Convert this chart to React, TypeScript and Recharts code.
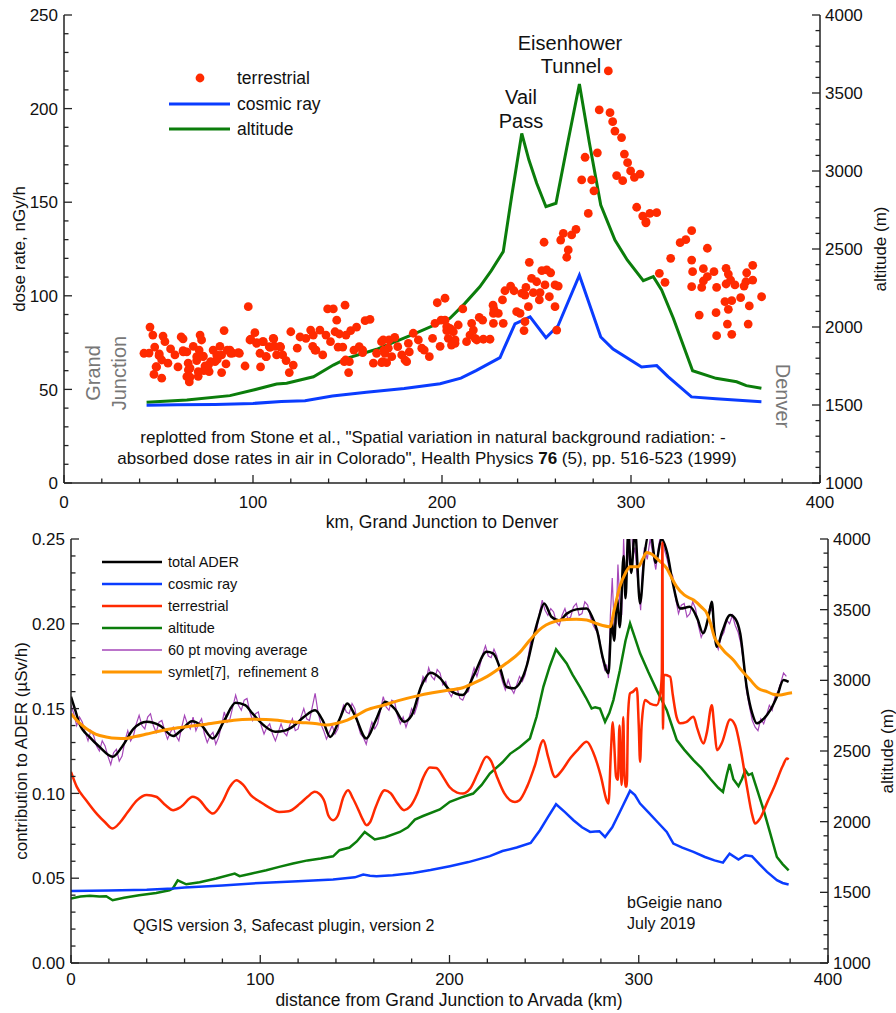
import React from 'react';
import { ComposedChart, Line, Scatter, XAxis, YAxis } from 'recharts';

const FONT = '"Liberation Sans", Arial, Helvetica, sans-serif';

// ---------- top panel: Stone et al. (1999), km vs nGy/h and altitude (m)
const stoneTerrestrial: [number, number][] = [
  [42.3, 69.3], [45, 69.4], [45.5, 83.3], [47, 79], [48, 72.6], [49, 62], [47.6, 58], [50.3, 68], [51.7, 56],
  [52.4, 78.5], [53.4, 75.5], [51.7, 65.7], [55, 64], [56.4, 71.6], [58.7, 68.4], [60.3, 62], [62, 78], [63, 77],
  [63, 70.7], [65, 70], [65.7, 64], [65, 56.8], [66.7, 61.4], [66.3, 54], [68.4, 73], [70.2, 65.4], [71, 57],
  [72, 79], [72.8, 76.4], [71.5, 71], [73.6, 67.5], [74, 60], [76.8, 59.5], [77.6, 64.8], [78.9, 71], [80.8, 68.4],
  [82.5, 73], [83.4, 59], [84.7, 81.4], [85.7, 63.6], [87.8, 71], [89.3, 69.4], [92.8, 69.3], [95.8, 62.5],
  [97.5, 94.2], [98.4, 76.4], [101, 80.3], [102, 75], [103.7, 69.3], [104, 62], [105.5, 75.5], [107, 67.5],
  [108.6, 72.8], [111, 77], [111.6, 73], [112.5, 68.4], [114.6, 72.6], [115.7, 68.4], [117.5, 65.4], [119.2, 59],
  [120, 80.8], [121.3, 63], [123.4, 72], [124.9, 78], [128, 77.3], [130.5, 81.7], [131.9, 79], [131.6, 73],
  [132.8, 71], [135.4, 81.7], [136.9, 68.4], [138.6, 79], [139.5, 93], [142.5, 93], [144.3, 87], [141, 75.5],
  [143.4, 80.8], [145.7, 79.6], [145, 72.6], [147.5, 72.6], [148.7, 95], [149.2, 79], [149, 65.7], [151, 64.8],
  [150.6, 59], [151.7, 81.4], [153.4, 71], [154.8, 83.3], [156.2, 72.8], [158, 69.6], [159.3, 86.7], [161.9, 87.4],
  [163.7, 64], [165.4, 69.3], [168, 75.5], [168.6, 64.8], [169.3, 71], [170.7, 64.3], [172, 76.4], [173.4, 67.5],
  [175, 77.8], [176.6, 72.8], [178.7, 68.4], [180.4, 65.7], [182.2, 74.6], [182.7, 70], [184.8, 80], [187.5, 76.4],
  [189.3, 72], [193.3, 67.5], [195, 77.3], [196.3, 85.3], [197.5, 96.3], [199, 73], [201.6, 98.7], [201.6, 87],
  [202.5, 81.4], [203.3, 77.3],
  [50.4, 69], [48.7, 62.1], [63.1, 70.1], [65.8, 60.4], [66.7, 56.5], [70.2, 67.5], [71, 59.5], [73.7, 67.8],
  [74.6, 62.5], [76.4, 63], [79.9, 64.8], [81.1, 66], [83.4, 68.4], [86.4, 71], [88.2, 69.3], [92.2, 69.6],
  [98.8, 76.8], [101.9, 74.6], [105.1, 75.5], [106.9, 67.5], [109, 72.5], [110.7, 77.3], [114.3, 73],
  [133.3, 71], [148.3, 64.8], [158, 71], [168.9, 76.4], [169.8, 69.3], [168.1, 64.3], [171.6, 72], [181.3, 64.8],
  [190.6, 71], [199.5, 87], [204.2, 82.6],
  [202.5, 83.5], [205.1, 81.7], [206.9, 74.6], [214.8, 79], [217.5, 77.3], [227.2, 90.6],
  [208.6, 84.4], [206, 80.8], [206.9, 76.4], [205, 73.7], [211, 93], [215.7, 85.3], [216.6, 81.7], [213, 75.5],
  [218.4, 76.4], [219.7, 88.5], [221.5, 87], [221.9, 76.8], [225.4, 76.8], [227.2, 85.3], [227.5, 92.8], [227, 95],
  [229.8, 90.6], [232, 97.8], [232.4, 85.3], [233.3, 102.7], [236.3, 105.2], [238.1, 102.7], [239.5, 91.5],
  [241.3, 90.6], [242.2, 101.3], [243.9, 100.4], [244.4, 104.5], [243.9, 86.2], [243.4, 81.4], [245.7, 94.2],
  [246.2, 117.9], [247.4, 109.3], [248.3, 101.7], [250.1, 107.5], [251.5, 97.8], [251.9, 101.7], [252.8, 113.4],
  [254.5, 105.8], [255.4, 113.8], [256.8, 99.5], [257.5, 112.3], [259.8, 105.8], [259.8, 94.2], [260.7, 81.7],
  [261.5, 105.2], [266, 120.6], [266.8, 124.5],
  [254, 128.6], [262.8, 129.8], [264.2, 133.4], [268.6, 132.5], [270.9, 135.5], [277.4, 144], [273.9, 161.9],
  [279.2, 161.9], [280.4, 156.1], [275.7, 174], [282.2, 176.4], [283.2, 199.3], [288, 220.1], [288.9, 197.8],
  [290.3, 193], [291.5, 188], [295, 184.5], [296.5, 175.7], [292.4, 164.2], [295.6, 161.5], [298.2, 171.1],
  [299.8, 166.7], [301.8, 163.3], [304.8, 165], [303, 147.3], [306.2, 142.6], [307.9, 139.6], [310, 144],
  [313.6, 144.4], [307.9, 139],
  [332.1, 134.8], [329, 130], [326, 128.4], [340.4, 125.4], [321, 120], [332.1, 119.1], [315, 112], [318, 107.2],
  [332.6, 112.9], [338.3, 114.5], [343.9, 112.9], [340.4, 110.2], [338.3, 107.9], [332.1, 104.9], [337.4, 104.5],
  [345.3, 104.5], [350.3, 114.7], [351.5, 111.6], [352.7, 108.4], [350.3, 106.3], [355, 105.8], [361.2, 112.3],
  [364.4, 116.3], [364.4, 108.4], [360.8, 107.5], [359.8, 105.2], [358, 99], [369.1, 99.5], [349.7, 96.9],
  [353.3, 97.4], [351.5, 92.8], [362.6, 94.6], [336.1, 89.7], [345, 91], [351, 84.9], [362, 84.9], [345.3, 78.7],
  [353.3, 79.4],
];

const stoneCosmic: [number, number][] = [
  [43.7, 41.5], [60, 41.8], [80, 42], [100, 42.5], [115, 43.5], [127.5, 44], [142, 46.5], [160, 48.5],
  [180, 50.5], [199, 53], [210, 56], [218, 60], [230.7, 67], [232, 70], [238.6, 85], [246.6, 88.7], [255, 77.6],
  [261.4, 84], [272.7, 111], [284, 78], [290.5, 71.6], [305.6, 62], [313.6, 62.7], [319.6, 56.8], [332, 46],
  [345, 45], [369, 43.4],
];

const stoneAltitude: [number, number][] = [
  [43.7, 1517], [65, 1532], [87.8, 1560], [100.2, 1596], [112.5, 1635], [117.8, 1639], [132, 1681],
  [142.5, 1756], [149.6, 1799], [165.4, 1857], [185, 1955], [204.2, 2056], [212, 2150], [220, 2258],
  [226, 2360], [232.4, 2483], [237, 2850], [242.2, 3241], [246, 3070], [250.1, 2921], [255, 2771],
  [260.3, 2793], [266.5, 3180], [272.7, 3558], [278, 3180], [284, 2782], [291.5, 2557], [298, 2430],
  [306.5, 2297], [311.8, 2323], [316.2, 2237], [322.4, 2056], [332.6, 1720], [345, 1671], [355.9, 1649],
  [361, 1624], [369, 1607],
];

// ---------- bottom panel: bGeigie nano drive, km vs uSv/h and altitude (m)
const totalAder: [number, number][] = [
  [0, 0.157], [2, 0.15], [4.5, 0.141], [10, 0.133], [15, 0.1275], [22, 0.1216], [27, 0.1275], [33, 0.138],
  [40, 0.1422], [47, 0.14], [54, 0.1338], [58, 0.137], [64, 0.1426], [69, 0.14], [75, 0.1324], [81, 0.143],
  [87, 0.1534], [92, 0.152], [96, 0.147], [102, 0.14], [108, 0.1363], [113, 0.137], [117, 0.1392], [123, 0.145],
  [129, 0.1491], [133, 0.143], [137, 0.1333], [142, 0.144], [146, 0.153], [150, 0.146], [156, 0.1324],
  [161, 0.143], [166, 0.154], [171, 0.15], [176, 0.1422], [180, 0.146], [185, 0.163], [190, 0.1711],
  [195, 0.168], [200, 0.161], [207, 0.158], [213, 0.17], [219.6, 0.1835], [223, 0.1826], [227, 0.173],
  [230, 0.1629], [234, 0.162], [237, 0.1649], [241, 0.176], [244, 0.1904], [247, 0.203], [250, 0.212],
  [254, 0.204], [258, 0.202], [262, 0.206], [267, 0.2085], [272.5, 0.209], [275, 0.205], [278, 0.196],
  [281, 0.18], [284, 0.1708], [285.7, 0.202], [287, 0.19], [288.5, 0.215], [290, 0.198], [292, 0.24],
  [293, 0.215], [294.5, 0.255], [296, 0.23], [298, 0.255], [300.7, 0.212], [303, 0.24], [306, 0.255],
  [309, 0.236], [312, 0.25], [315, 0.242], [318, 0.224], [322, 0.209], [327, 0.21], [331, 0.203],
  [334, 0.1944], [337, 0.205], [338.6, 0.213], [340, 0.195], [341.3, 0.1865], [344, 0.195], [348.3, 0.2052],
  [351, 0.203], [353.6, 0.1944], [357, 0.1629], [360, 0.147], [362.4, 0.1413], [366, 0.144], [369.5, 0.1491],
  [373, 0.157], [376.5, 0.1668], [379.2, 0.1658],
];

const movingAvg: [number, number][] = [
  [0, 0.152], [1.5, 0.147], [3, 0.14], [4.5, 0.145], [6, 0.142], [7.5, 0.136], [9, 0.131], [10.5, 0.137],
  [12, 0.134], [13.5, 0.128], [15, 0.125], [16.5, 0.131], [18, 0.128], [19.5, 0.122], [21, 0.117], [22.5, 0.124],
  [24, 0.126], [25.5, 0.119], [27, 0.122], [28.5, 0.131], [30, 0.137], [31.5, 0.131], [33, 0.134], [34.5, 0.141],
  [36, 0.146], [37.5, 0.14], [39, 0.138], [40.5, 0.145], [42, 0.147], [43.5, 0.14], [45, 0.136], [46.5, 0.142],
  [48, 0.143], [49.5, 0.137], [51, 0.132], [52.5, 0.136], [54, 0.139], [55.5, 0.134], [57, 0.131],
  [58.5, 0.139], [60, 0.146], [61.5, 0.141], [63, 0.138], [64.5, 0.145], [66, 0.137], [67.5, 0.141],
  [69, 0.144], [70.5, 0.135], [72, 0.13], [73.5, 0.134], [75, 0.136], [76.5, 0.129], [78, 0.133],
  [79.5, 0.14], [81, 0.148], [82.5, 0.142], [84, 0.144], [85.5, 0.151], [87, 0.158], [88.5, 0.152],
  [90, 0.149], [91.5, 0.155], [93, 0.156], [94.5, 0.148], [96, 0.143], [97.5, 0.147], [99, 0.148],
  [100.5, 0.14], [102, 0.135], [103.5, 0.139], [105, 0.141], [106.5, 0.135], [108, 0.131], [109.5, 0.136],
  [111, 0.141], [112.5, 0.136], [114, 0.134], [115.5, 0.14], [117, 0.144], [118.5, 0.137], [120, 0.138],
  [121.5, 0.145], [123, 0.15], [124.5, 0.144], [126, 0.143], [127.5, 0.151], [129, 0.159], [130.5, 0.148],
  [132, 0.141], [133.5, 0.137], [135, 0.132], [136.5, 0.136], [138, 0.14], [139.5, 0.135], [141, 0.138],
  [142.5, 0.146], [144, 0.152], [145.5, 0.148], [147, 0.147], [148.5, 0.153], [150, 0.15], [151.5, 0.141],
  [153, 0.135], [154.5, 0.133], [156, 0.129], [157.5, 0.136], [159, 0.142], [160.5, 0.138], [162, 0.141],
  [163.5, 0.149], [165, 0.157], [166.5, 0.151], [168, 0.149], [169.5, 0.155], [171, 0.154], [172.5, 0.146],
  [174, 0.141], [175.5, 0.145], [177, 0.139], [178.5, 0.144], [180, 0.15], [181.5, 0.147], [183, 0.152],
  [184.5, 0.161], [186, 0.169], [187.5, 0.166], [189, 0.174], [190.5, 0.169], [192, 0.167], [193.5, 0.173],
  [195, 0.171], [196.5, 0.164], [198, 0.166], [199.5, 0.16], [201, 0.157], [202.5, 0.161], [204, 0.162],
  [205.5, 0.156], [207, 0.155], [208.5, 0.159], [210, 0.16], [211.5, 0.168], [213, 0.174], [214.5, 0.169],
  [216, 0.175], [217.5, 0.182], [219, 0.187], [220.5, 0.181], [222, 0.18], [223.5, 0.185], [225, 0.181],
  [226.5, 0.172], [228, 0.166], [229.5, 0.161], [231, 0.167], [232.5, 0.162], [234, 0.159], [235.5, 0.164],
  [237, 0.169], [238.5, 0.166], [240, 0.17], [241.5, 0.18], [243, 0.19], [244.5, 0.193], [246, 0.196],
  [247.5, 0.206], [249, 0.214], [250.5, 0.208], [252, 0.205], [253.5, 0.209], [255, 0.207], [256.5, 0.201],
  [258, 0.199], [259.5, 0.205], [261, 0.209], [262.5, 0.203], [264, 0.204], [265.5, 0.21], [267, 0.212],
  [268.5, 0.205], [270, 0.206], [271.5, 0.213], [273, 0.211], [274.5, 0.204], [276, 0.199], [277.5, 0.196],
  [279, 0.193], [280.5, 0.181], [282, 0.173], [283, 0.176], [284, 0.168], [285, 0.205], [286, 0.227],
  [287, 0.198], [288, 0.2], [289, 0.235], [290, 0.212], [291, 0.205], [292, 0.25], [293, 0.222], [294, 0.235],
  [295, 0.248], [296, 0.26], [297, 0.24], [298, 0.245], [299, 0.231], [300, 0.22], [301, 0.208], [302, 0.232],
  [303, 0.245], [304.5, 0.238], [306, 0.25], [307.5, 0.241], [309, 0.232], [310.5, 0.246], [312, 0.255],
  [313.5, 0.244], [315, 0.238], [316.5, 0.231], [318, 0.228], [319.5, 0.215], [321, 0.206], [322.5, 0.211],
  [324, 0.212], [325.5, 0.204], [327, 0.206], [328.5, 0.213], [330, 0.209], [331.5, 0.199], [333, 0.192],
  [334.5, 0.196], [336, 0.199], [337.5, 0.21], [339, 0.207], [340.5, 0.19], [342, 0.185], [343.5, 0.192],
  [345, 0.195], [346.5, 0.202], [348, 0.2], [349.5, 0.205], [351, 0.199], [352.5, 0.195], [354, 0.188],
  [355.5, 0.176], [357, 0.16], [358.5, 0.151], [360, 0.143], [361.5, 0.139], [363, 0.137], [364.5, 0.144],
  [366, 0.141], [367.5, 0.146], [369, 0.152], [370.5, 0.149], [372, 0.157], [373.5, 0.16], [375, 0.165],
  [376.5, 0.171], [378, 0.169],
];

const symlet: [number, number][] = [
  [0, 0.147], [4, 0.142], [8, 0.1383], [13, 0.135], [18.6, 0.1333], [24, 0.1325], [29, 0.1324], [34, 0.1335],
  [40, 0.135], [47, 0.1368], [54, 0.1383], [62, 0.1395], [71.5, 0.1408], [80, 0.1422], [86, 0.1432],
  [95, 0.1437], [103, 0.1436], [110, 0.143], [116, 0.1422], [124, 0.1416], [130, 0.141], [135, 0.1403],
  [140, 0.1412], [146, 0.1432], [151, 0.146], [156, 0.1491], [165, 0.152], [174, 0.155], [183, 0.1575],
  [191, 0.1593], [200, 0.161], [206, 0.162], [212.5, 0.1649], [220, 0.169], [230, 0.1767], [237, 0.183],
  [242.5, 0.1904], [247, 0.196], [251, 0.1993], [256, 0.2015], [262, 0.2026], [267, 0.2027], [272.5, 0.2022],
  [278, 0.2], [284.8, 0.1983], [287, 0.208], [290, 0.2219], [293, 0.23], [295.4, 0.2337], [299.8, 0.2337],
  [302, 0.238], [304.2, 0.2421], [307, 0.241], [309.5, 0.2386], [312, 0.236], [314.8, 0.2327], [317, 0.228],
  [320, 0.2219], [324, 0.217], [329, 0.214], [333, 0.21], [336, 0.2062], [338, 0.2], [340, 0.192],
  [341.3, 0.1894], [345, 0.184], [350, 0.1786], [354, 0.173], [359, 0.1668], [363, 0.162], [368, 0.1599],
  [371, 0.1585], [375, 0.158], [378, 0.1588], [381, 0.1593],
];

const terrestrial: [number, number][] = [
  [0, 0.1127], [3, 0.104], [8, 0.096], [14, 0.0875], [18, 0.083], [22, 0.0793], [26, 0.083], [30, 0.089],
  [35, 0.096], [40, 0.099], [45, 0.098], [50, 0.093], [54, 0.0901], [58, 0.092], [64.4, 0.098], [68, 0.096],
  [72, 0.0905], [75, 0.0881], [80, 0.095], [84, 0.104], [87.4, 0.1078], [91, 0.105], [95, 0.099], [100, 0.095],
  [105, 0.0915], [110, 0.0891], [115, 0.0895], [121, 0.094], [125, 0.098], [128.8, 0.1009], [131, 0.1],
  [134, 0.095], [136, 0.087], [138.5, 0.0842], [141, 0.087], [144, 0.098], [146.4, 0.1019], [149, 0.097],
  [152, 0.09], [154, 0.085], [156.2, 0.0812], [158, 0.083], [161, 0.092], [165.8, 0.1019], [169, 0.1],
  [172, 0.095], [176, 0.0901], [179, 0.092], [183, 0.1], [186, 0.109], [189.6, 0.1153], [193, 0.115],
  [197, 0.109], [200, 0.1038], [204, 0.1005], [207, 0.0999], [211, 0.103], [215, 0.112], [219.6, 0.1216],
  [222, 0.119], [225, 0.11], [229, 0.1], [232, 0.096], [234.6, 0.095], [237, 0.096], [241, 0.104], [245, 0.116],
  [249.6, 0.1314], [252, 0.122], [255.8, 0.1097], [259, 0.113], [264, 0.121], [268, 0.126], [272.5, 0.1304],
  [276, 0.124], [280, 0.11], [283, 0.096], [284, 0.094], [285.3, 0.125], [286.3, 0.142], [287, 0.13],
  [288, 0.11], [289, 0.108], [289.8, 0.14], [290.4, 0.12], [291, 0.105], [291.8, 0.145], [292.4, 0.113],
  [293, 0.104], [293.7, 0.104], [294.3, 0.145], [295.4, 0.159], [297, 0.16], [299, 0.162], [300, 0.14],
  [300.7, 0.1186], [301.5, 0.14], [303.3, 0.155], [306, 0.153], [309.5, 0.152], [311.5, 0.16], [312.2, 0.171],
  [312.5, 0.248], [312.8, 0.138], [313.2, 0.17], [316.6, 0.1688], [318, 0.158], [320, 0.145], [321.9, 0.1413],
  [325, 0.142], [328.9, 0.1452], [331, 0.138], [334.2, 0.1294], [336, 0.136], [338.6, 0.152], [340, 0.138],
  [341.3, 0.1255], [344, 0.13], [348.3, 0.1436], [351, 0.14], [354, 0.125], [357, 0.105], [360, 0.087],
  [361.5, 0.0822], [364, 0.085], [368, 0.095], [372, 0.105], [376, 0.116], [378.3, 0.1206], [379.2, 0.12],
];

const cosmic: [number, number][] = [
  [0, 0.0425], [20, 0.0428], [40, 0.0432], [53.8, 0.0439], [60, 0.0445], [80, 0.0457], [99.7, 0.0472],
  [120, 0.0482], [138.5, 0.0492], [150, 0.0505], [154.4, 0.0522], [158, 0.0515], [161.4, 0.0512],
  [170, 0.0518], [180.8, 0.0531], [190, 0.0548], [200.2, 0.0571], [210, 0.0595], [221.3, 0.063], [228, 0.066],
  [235.5, 0.0681], [242.9, 0.0708], [247.8, 0.0783], [252, 0.086], [256.3, 0.0936], [261, 0.089],
  [265.5, 0.0842], [270, 0.08], [274.3, 0.0773], [277, 0.0775], [279.2, 0.0777], [282.2, 0.0743], [286, 0.08],
  [290, 0.089], [295.4, 0.1015], [298, 0.099], [300.7, 0.094], [305, 0.089], [310, 0.083], [314.8, 0.0773],
  [318.3, 0.0704], [323, 0.068], [328.9, 0.0655], [335, 0.0625], [340, 0.0605], [344.5, 0.0592], [348, 0.0645],
  [352.7, 0.061], [356.3, 0.0635], [359.8, 0.063], [364, 0.058], [367.8, 0.0537], [373, 0.0488], [376, 0.0472],
  [379.2, 0.0463],
];

const altitude: [number, number][] = [
  [0, 1456], [5, 1470], [10, 1476], [15, 1470], [18.6, 1472], [22, 1444], [28, 1462], [36, 1479], [45, 1495],
  [52, 1515], [53.8, 1527], [56.4, 1585], [60.9, 1557], [68, 1572], [76.7, 1598], [86.5, 1633], [89.1, 1614],
  [95, 1632], [103.2, 1656], [110, 1680], [117.3, 1704], [125, 1726], [132, 1740], [138.5, 1755], [141.9, 1798],
  [147.2, 1817], [151, 1860], [155.2, 1927], [160.5, 1874], [166, 1890], [173.8, 1927], [178, 1960],
  [181.7, 2015], [186, 2040], [194.9, 2086], [200.2, 2140], [206, 2170], [212.5, 2199], [217, 2260],
  [221.3, 2341], [228, 2420], [232, 2480], [237.2, 2529], [242.5, 2589], [246, 2742], [249.6, 2954],
  [253, 3100], [256.3, 3219], [261.9, 3120], [265, 3040], [268.9, 2954], [272, 2880], [275.1, 2801],
  [277, 2810], [279.5, 2801], [282.2, 2706], [284.5, 2770], [286.6, 2860], [290, 3070], [293, 3280],
  [295.4, 3403], [298, 3300], [300.7, 3191], [305, 3060], [309.5, 2931], [314.8, 2789], [317, 2700],
  [320.1, 2577], [324, 2510], [328.9, 2435], [333, 2380], [338, 2300], [342, 2240], [344.5, 2211],
  [346.5, 2330], [348, 2407], [350, 2300], [352.7, 2251], [354.5, 2300], [356.3, 2364], [358, 2330],
  [359.8, 2341], [362, 2250], [366, 2081], [369, 1940], [373, 1750], [376, 1700], [379.2, 1656],
];

// ---------- ticks
const topDoseTicks = Array.from({ length: 26 }, (_, i) => i * 10);
const altTicks = Array.from({ length: 31 }, (_, i) => 1000 + i * 100);
const kmTicks = Array.from({ length: 21 }, (_, i) => i * 20);
const aderTicks = Array.from({ length: 26 }, (_, i) => i / 100);

const toXY = (arr: [number, number][]) => arr.map(([x, y]) => ({ x, y }));

const RED = '#ff2a00';
const BLUE = '#0a3cff';
const GREEN = '#0b7d0b';
const ORANGE = '#ff9600';
const PURPLE = '#a546b8';
const AXIS = '#222';

type Side = 'left' | 'right' | 'bottom' | 'top';

function makeTick(side: Side, isMajor: (v: number) => boolean, fmt: (v: number) => string, gap = 24) {
  return (props: any) => {
    const { x, y, payload } = props;
    const v = payload.value as number;
    const major = isMajor(v);
    const len = major ? 8 : 4.5;
    const label = fmt(v);
    const textProps = { fontSize: 17, fill: '#111', fontFamily: FONT };
    if (side === 'left') {
      return (
        <g>
          <line x1={x} x2={x + len} y1={y} y2={y} stroke={AXIS} strokeWidth={1.3} />
          {major && <text x={x - 6} y={y} dy="0.36em" textAnchor="end" {...textProps}>{label}</text>}
        </g>
      );
    }
    if (side === 'right') {
      return (
        <g>
          <line x1={x - len} x2={x} y1={y} y2={y} stroke={AXIS} strokeWidth={1.3} />
          {major && <text x={x + 5} y={y} dy="0.36em" textAnchor="start" {...textProps}>{label}</text>}
        </g>
      );
    }
    if (side === 'bottom') {
      return (
        <g>
          <line x1={x} x2={x} y1={y - len} y2={y} stroke={AXIS} strokeWidth={1.3} />
          {major && <text x={x} y={y + gap} textAnchor="middle" {...textProps}>{label}</text>}
        </g>
      );
    }
    return <line x1={x} x2={x} y1={y} y2={y + len} stroke={AXIS} strokeWidth={1.3} />;
  };
}

const axisLine = { stroke: AXIS, strokeWidth: 1.5 };

function TopPanel() {
  return (
    <ComposedChart width={896} height={530} margin={{ top: 15, right: 16, bottom: 0, left: 4 }}>
      <XAxis xAxisId={0} dataKey="x" type="number" domain={[0, 400]} ticks={kmTicks} interval={0}
        height={47} tickLine={false} tickSize={0} tickMargin={0} axisLine={axisLine}
        tick={makeTick('bottom', (v) => v % 100 === 0, (v) => String(v), 25)} allowDataOverflow />
      <XAxis xAxisId="top" orientation="top" type="number" domain={[0, 400]} ticks={[100, 200, 300]} interval={0}
        height={0} tickLine={false} tickSize={0} tickMargin={0} axisLine={axisLine}
        tick={makeTick('top', () => true, String)} />
      <YAxis yAxisId="left" dataKey="y" type="number" domain={[0, 250]} ticks={topDoseTicks} interval={0}
        width={60} tickLine={false} tickSize={0} tickMargin={0} axisLine={axisLine}
        tick={makeTick('left', (v) => v % 50 === 0, String)} allowDataOverflow />
      <YAxis yAxisId="right" orientation="right" dataKey="y" type="number" domain={[1000, 4000]} ticks={altTicks}
        interval={0} width={60} tickLine={false} tickSize={0} tickMargin={0} axisLine={axisLine}
        tick={makeTick('right', (v) => v % 500 === 0, String)} allowDataOverflow />
      <Line yAxisId="right" data={toXY(stoneAltitude)} dataKey="y" type="linear" stroke={GREEN} strokeWidth={3}
        dot={false} activeDot={false} isAnimationActive={false} />
      <Line yAxisId="left" data={toXY(stoneCosmic)} dataKey="y" type="linear" stroke={BLUE} strokeWidth={3}
        dot={false} activeDot={false} isAnimationActive={false} />
      <Scatter yAxisId="left" data={toXY(stoneTerrestrial)} dataKey="y" fill={RED} isAnimationActive={false}
        shape={(p: any) => <circle cx={p.cx} cy={p.cy} r={4.4} fill={RED} />} />
    </ComposedChart>
  );
}

function BottomPanel() {
  const lineCommon = { dot: false as const, activeDot: false as const, isAnimationActive: false };
  return (
    <ComposedChart width={896} height={483} margin={{ top: 9, right: 8, bottom: 0, left: 11 }}>
      <XAxis xAxisId={0} dataKey="x" type="number" domain={[0, 400]} ticks={kmTicks} interval={0}
        height={50} tickLine={false} tickSize={0} tickMargin={0} axisLine={axisLine}
        tick={makeTick('bottom', (v) => v % 100 === 0, (v) => String(v), 22)} allowDataOverflow />
      <XAxis xAxisId="top" orientation="top" type="number" domain={[0, 400]} height={0}
        tick={false} tickLine={false} axisLine={axisLine} />
      <YAxis yAxisId="left" dataKey="y" type="number" domain={[0, 0.25]} ticks={aderTicks} interval={0}
        width={60} tickLine={false} tickSize={0} tickMargin={0} axisLine={axisLine}
        tick={makeTick('left', (v) => Math.round(v * 100) % 5 === 0, (v) => v.toFixed(2))} allowDataOverflow />
      <YAxis yAxisId="right" orientation="right" dataKey="y" type="number" domain={[1000, 4000]} ticks={altTicks}
        interval={0} width={60} tickLine={false} tickSize={0} tickMargin={0} axisLine={axisLine}
        tick={makeTick('right', (v) => v % 500 === 0, String)} allowDataOverflow />
      <Line yAxisId="right" data={toXY(altitude)} dataKey="y" type="linear" stroke={GREEN} strokeWidth={2.5} {...lineCommon} />
      <Line yAxisId="left" data={toXY(cosmic)} dataKey="y" type="linear" stroke={BLUE} strokeWidth={2.5} {...lineCommon} />
      <Line yAxisId="left" data={toXY(movingAvg)} dataKey="y" type="linear" stroke={PURPLE} strokeWidth={1.2} {...lineCommon} />
      <Line yAxisId="left" data={toXY(totalAder)} dataKey="y" type="monotone" stroke="#000" strokeWidth={2.5} {...lineCommon} />
      <Line yAxisId="left" data={toXY(symlet)} dataKey="y" type="monotone" stroke={ORANGE} strokeWidth={3} {...lineCommon} />
      <Line yAxisId="left" data={toXY(terrestrial)} dataKey="y" type="monotone" stroke={RED} strokeWidth={2.5} {...lineCommon} />
    </ComposedChart>
  );
}

const bottomLegend = [
  { name: 'total ADER', color: '#000', w: 2.5 },
  { name: 'cosmic ray', color: BLUE, w: 2.5 },
  { name: 'terrestrial', color: RED, w: 2.5 },
  { name: 'altitude', color: GREEN, w: 2.5 },
  { name: '60 pt moving average', color: PURPLE, w: 1.3 },
  { name: 'symlet[7],\u00a0 refinement 8', color: ORANGE, w: 3 },
];

function Overlay() {
  const t = { fill: '#111', fontFamily: FONT };
  const gray = { fill: '#777', fontFamily: FONT, fontSize: 20 };
  return (
    <svg width={896} height={1013} style={{ position: 'absolute', left: 0, top: 0, pointerEvents: 'none' }}>
      {/* top panel legend */}
      <circle cx={200} cy={78} r={4.4} fill={RED} />
      <text x={237} y={78} dy="0.36em" fontSize={17.5} {...t}>terrestrial</text>
      <line x1={169} x2={230} y1={104} y2={104} stroke={BLUE} strokeWidth={3} />
      <text x={237} y={104} dy="0.36em" fontSize={17.5} {...t}>cosmic ray</text>
      <line x1={169} x2={230} y1={129} y2={129} stroke={GREEN} strokeWidth={3} />
      <text x={237} y={129} dy="0.36em" fontSize={17.5} {...t}>altitude</text>

      {/* peak names */}
      <text x={570} y={43} dy="0.36em" textAnchor="middle" fontSize={20} {...t}>Eisenhower</text>
      <text x={571} y={66} dy="0.36em" textAnchor="middle" fontSize={20} {...t}>Tunnel</text>
      <text x={521} y={97} dy="0.36em" textAnchor="middle" fontSize={20} {...t}>Vail</text>
      <text x={521} y={121} dy="0.36em" textAnchor="middle" fontSize={20} {...t}>Pass</text>

      <text transform="translate(93,373) rotate(-90)" textAnchor="middle" dy="0.36em" {...gray}>Grand</text>
      <text transform="translate(119,373) rotate(-90)" textAnchor="middle" dy="0.36em" {...gray}>Junction</text>
      <text transform="translate(783,396) rotate(90)" textAnchor="middle" dy="0.36em" {...gray}>Denver</text>

      <text x={433} y={437} dy="0.36em" textAnchor="middle" fontSize={17} {...t}>
        replotted from Stone et al., "Spatial variation in natural background radiation: -
      </text>
      <text x={427} y={458} dy="0.36em" textAnchor="middle" fontSize={17} {...t}>
        absorbed dose rates in air in Colorado", Health Physics <tspan fontWeight="bold">76</tspan> (5), pp. 516-523 (1999)
      </text>

      <text transform="translate(19,249) rotate(-90)" textAnchor="middle" dy="0.36em" fontSize={17} {...t}>dose rate, nGy/h</text>
      <text transform="translate(880,249) rotate(-90)" textAnchor="middle" dy="0.36em" fontSize={17} {...t}>altitude (m)</text>
      <text x={442} y={522} dy="0.36em" textAnchor="middle" fontSize={17.5} {...t}>km, Grand Junction to Denver</text>

      {/* bottom panel legend */}
      {bottomLegend.map((d, i) => (
        <g key={d.name}>
          <line x1={102} x2={162} y1={562 + i * 22} y2={562 + i * 22} stroke={d.color} strokeWidth={d.w} />
          <text x={168} y={562 + i * 22} dy="0.36em" fontSize={14.5} {...t}>{d.name}</text>
        </g>
      ))}

      <text x={133} y={925} dy="0.36em" fontSize={16} {...t}>QGIS version 3, Safecast plugin, version 2</text>
      <text x={627} y={902} dy="0.36em" fontSize={16} {...t}>bGeigie nano</text>
      <text x={627} y={923} dy="0.36em" fontSize={16} {...t}>July 2019</text>

      <text transform="translate(21,751) rotate(-90)" textAnchor="middle" dy="0.36em" fontSize={17} {...t}>contribution to ADER (µSv/h)</text>
      <text transform="translate(887,751) rotate(-90)" textAnchor="middle" dy="0.36em" fontSize={17} {...t}>altitude (m)</text>
      <text x={449} y={1000} dy="0.36em" textAnchor="middle" fontSize={17.5} {...t}>distance from Grand Junction to Arvada (km)</text>
    </svg>
  );
}

export default function App() {
  return (
    <div style={{ position: 'absolute', left: 0, top: 0, width: 896, height: 1013, background: '#fff', fontFamily: FONT }}>
      <div style={{ position: 'absolute', left: 0, top: 0 }}>
        <TopPanel />
      </div>
      <div style={{ position: 'absolute', left: 0, top: 530 }}>
        <BottomPanel />
      </div>
      <Overlay />
    </div>
  );
}
